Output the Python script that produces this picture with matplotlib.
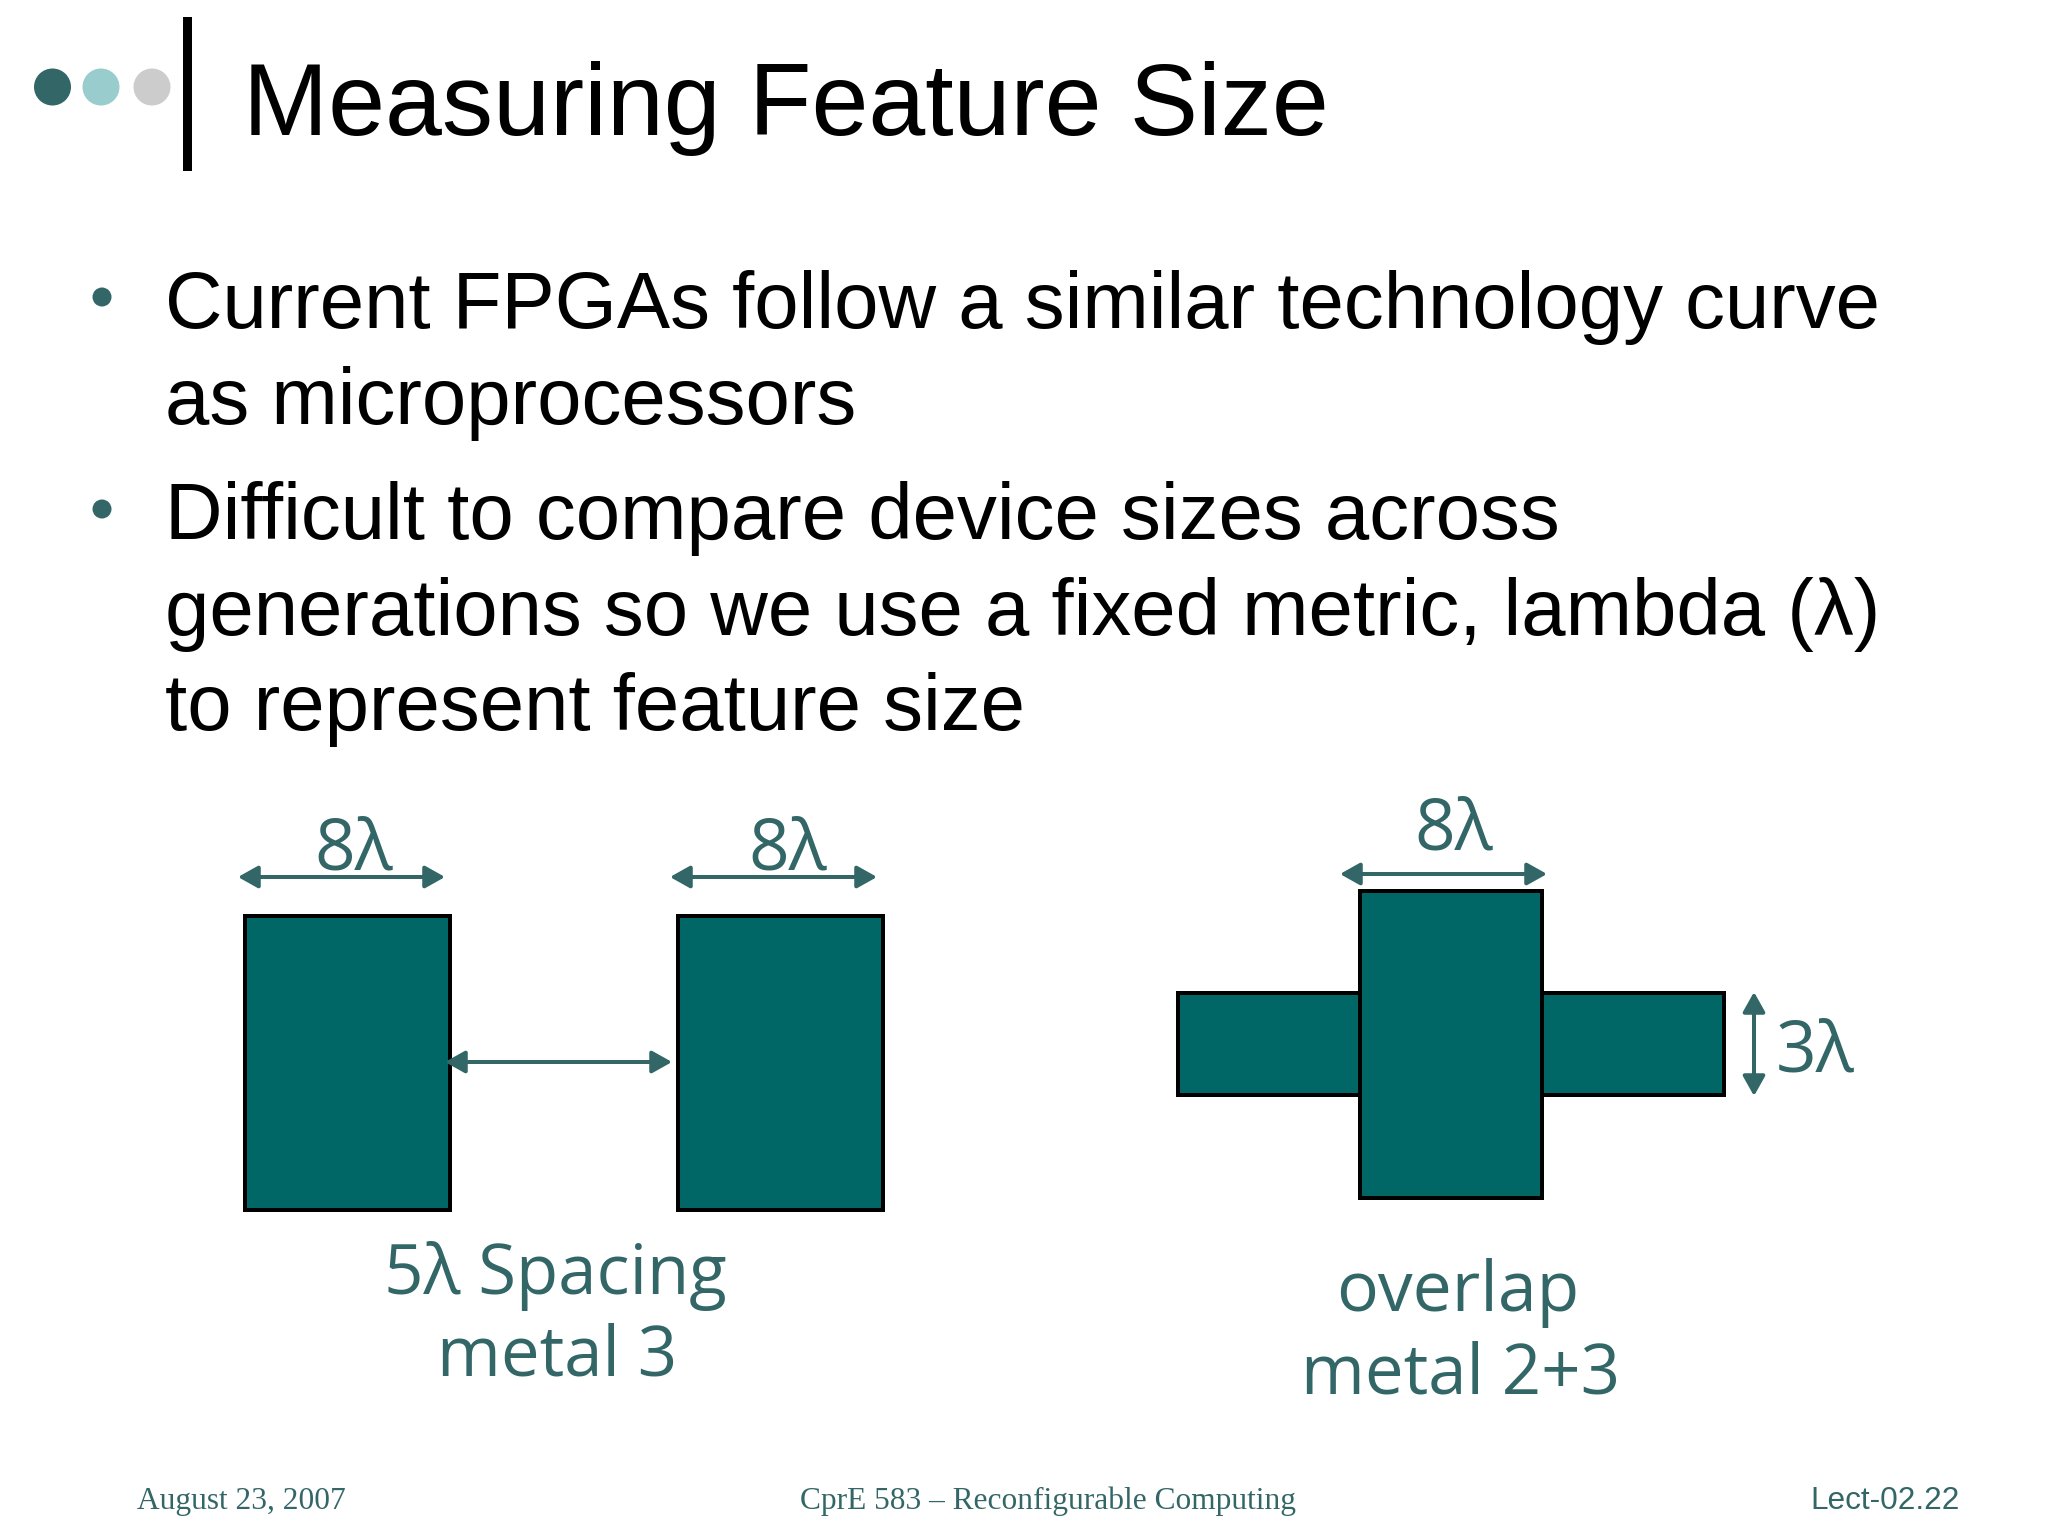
import matplotlib
matplotlib.use("Agg")
import matplotlib.pyplot as plt
from matplotlib.patches import Rectangle, Ellipse

TEAL = "#336666"
FILL = "#006666"

title = "Measuring Feature Size"
body_lines = ["Current FPGAs follow a similar technology curve",
              "as microprocessors",
              "Difficult to compare device sizes across",
              "generations so we use a fixed metric, lambda (λ)",
              "to represent feature size"]
body_baselines = [328, 424, 539, 635, 730]
bullet_y = [297, 509]
dot_x = [52.5, 101, 152]
dot_colors = [TEAL, "#99CCCC", "#CCCCCC"]
# x0, y0, x1, y1
rects = [(245, 920 - 4, 450, 1210), (678, 916, 883, 1210),
         (1178, 993, 1724, 1095), (1360, 891, 1542, 1198)]
arrows = [(238, 877, 445, 877), (670, 877, 877, 877), (445, 1062, 672, 1062),
          (1340, 874, 1547, 874), (1754, 992, 1754, 1096)]
diagram_labels = ["8λ", "8λ", "8λ", "3λ", "5λ Spacing", "metal 3", "overlap", "metal 2+3"]
label_x = [354, 788, 1454, 1815, 555, 557, 1458, 1461]
label_y = [869, 869, 850, 1072, 1294, 1375, 1311, 1393]
label_px = [71, 71, 71, 71, 69, 69, 69.6, 69]
footer_texts = ["August 23, 2007", "CprE 583 – Reconfigurable Computing", "Lect-02.22"]


def px(v):
    return v * 0.72


fig = plt.figure(figsize=(20.48, 15.36), dpi=100, facecolor="white")
ax = fig.add_axes([0, 0, 1, 1])
ax.set_xlim(0, 2048)
ax.set_ylim(1536, 0)
ax.axis("off")

for x, c in zip(dot_x, dot_colors):
    ax.add_patch(Ellipse((x, 87), 37, 37, fc=c, ec="none"))
ax.add_patch(Rectangle((183, 17), 9, 154, fc="black", ec="none"))

ax.text(243, 135, title, family="Liberation Sans", fontsize=px(102.3), va="baseline", color="black")

for y in bullet_y:
    ax.add_patch(Ellipse((102, y), 19, 19, fc=TEAL, ec="none"))
for s, y in zip(body_lines, body_baselines):
    ax.text(165, y, s, family="Liberation Sans", fontsize=px(79.7), va="baseline", color="black")

for x0, y0, x1, y1 in rects:
    ax.add_patch(Rectangle((x0, y0), x1 - x0, y1 - y0, fc=FILL, ec="black", lw=px(4), joinstyle="miter"))

for x0, y0, x1, y1 in arrows:
    ax.annotate("", xy=(x1, y1), xytext=(x0, y0),
                arrowprops=dict(arrowstyle="<|-|>,head_length=0.75,head_width=0.42", color=TEAL, lw=px(4),
                                shrinkA=0, shrinkB=0, mutation_scale=16))

for s, x, y, size in zip(diagram_labels, label_x, label_y, label_px):
    ax.text(x, y, s, family="Open Sans", fontsize=px(size), color=TEAL, ha="center", va="baseline")

ax.text(137, 1509, footer_texts[0], family="Liberation Serif", fontsize=px(31.4), color=TEAL, va="baseline")
ax.text(800, 1509, footer_texts[1], family="Liberation Serif", fontsize=px(31.4), color=TEAL, va="baseline")
ax.text(1960, 1509, footer_texts[2], family="Liberation Sans", fontsize=px(31.5), color=TEAL, ha="right", va="baseline")

fig.savefig("out.png", dpi=100, facecolor="white")
